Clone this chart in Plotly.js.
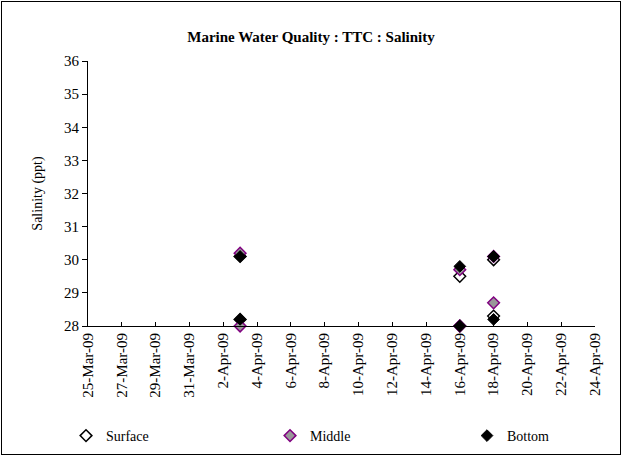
<!DOCTYPE html>
<html>
<head>
<meta charset="utf-8">
<script src="https://cdn.plot.ly/plotly-3.0.1.min.js"></script>
<style>
  body { margin: 0; padding: 0; background: #fff; }
  #wrap { position: relative; width: 622px; height: 456px; }
  #chart { width: 622px; height: 456px; }
  #frame { position: absolute; left: 1px; top: 1px; width: 618px; height: 452px; border: 1px solid #000; pointer-events: none; }
</style>
</head>
<body>
<div id="wrap"><div id="chart"></div><div id="frame"></div></div>
<script>
const dates = ['2009-04-03', '2009-04-03', '2009-04-16', '2009-04-16', '2009-04-18', '2009-04-18'];
const surface = [30.1, 28.2, 29.5, 28.0, 30.0, 28.3];
const middle = [30.2, 28.0, 29.7, 28.0, 30.1, 28.7];
const bottom = [30.1, 28.2, 29.8, 28.0, 30.1, 28.2];
const xRange = ['2009-03-25', '2009-04-24'];
const yRange = [28, 36];

const font = "'Liberation Serif', serif";

const traces = [
  { name: 'Surface', legend: 'legend', x: dates, y: surface, type: 'scatter', mode: 'markers', cliponaxis: false,
    marker: { symbol: 'diamond', size: 9, color: '#ffffff', line: { color: '#000000', width: 1.5 } } },
  { name: 'Middle', legend: 'legend2', x: dates, y: middle, type: 'scatter', mode: 'markers', cliponaxis: false,
    marker: { symbol: 'diamond', size: 9, color: '#999999', line: { color: '#800080', width: 1.5 } } },
  { name: 'Bottom', legend: 'legend3', x: dates, y: bottom, type: 'scatter', mode: 'markers', cliponaxis: false,
    marker: { symbol: 'diamond', size: 9, color: '#000000', line: { color: '#000000', width: 1 } } }
];

function leg(px) {
  return {
    orientation: 'h', xref: 'container', yref: 'container',
    x: (px - 20) / 622, xanchor: 'left', y: 1 - 436 / 456, yanchor: 'middle',
    itemwidth: 30, font: { family: font, size: 14, color: '#000' }, bgcolor: 'rgba(0,0,0,0)'
  };
}

const layout = {
  width: 622, height: 456,
  margin: { l: 88, r: 27, t: 61, b: 130 },
  paper_bgcolor: '#ffffff', plot_bgcolor: '#ffffff',
  font: { family: font, size: 15, color: '#000' },
  title: { text: '<b>Marine Water Quality : TTC : Salinity</b>', font: { family: font, size: 15, color: '#000' },
           x: 0.5, xanchor: 'center', y: 1 - 37 / 456, yanchor: 'middle', yref: 'container' },
  xaxis: {
    type: 'date', range: xRange, tick0: '2009-03-25', dtick: 2 * 86400000,
    tickformat: '%-d-%b-%y', tickangle: -90,
    ticks: 'inside', ticklen: 4, tickcolor: '#000', tickwidth: 1,
    showline: true, linecolor: '#000', linewidth: 1, showgrid: false, zeroline: false,
    tickfont: { family: font, size: 15, color: '#000' }, fixedrange: true
  },
  yaxis: {
    range: yRange, dtick: 1, ticks: 'outside', ticklen: 5, tickcolor: '#000', tickwidth: 1,
    showline: true, linecolor: '#000', linewidth: 1, showgrid: false, zeroline: false,
    tickfont: { family: font, size: 15, color: '#000' },
    title: { text: 'Salinity (ppt)', font: { family: font, size: 14, color: '#000' }, standoff: 18 }
  },
  showlegend: true,
  legend: leg(86),
  legend2: leg(290),
  legend3: leg(487)
};

Plotly.newPlot('chart', traces, layout, { displayModeBar: false, staticPlot: true });
</script>
</body>
</html>
